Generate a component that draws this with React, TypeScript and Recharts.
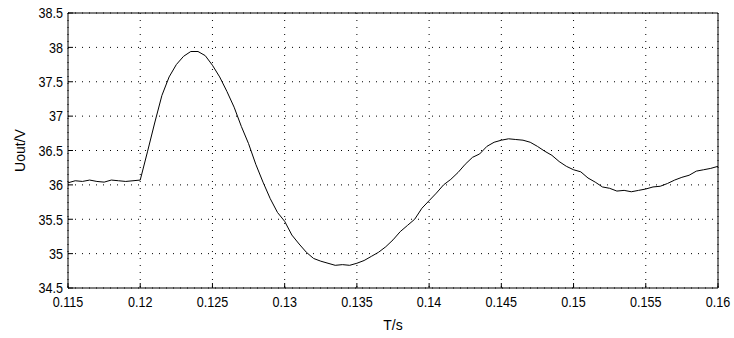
import { CartesianGrid, Line, LineChart, XAxis, YAxis } from "recharts";

const timeS = [
  0.115, 0.1155, 0.116, 0.1165, 0.117, 0.1175, 0.118, 0.1185, 0.119, 0.1195,
  0.12, 0.1205, 0.121, 0.1215, 0.122, 0.1225, 0.123, 0.1235, 0.124, 0.1245,
  0.125, 0.1255, 0.126, 0.1265, 0.127, 0.1275, 0.128, 0.1285, 0.129, 0.1295,
  0.13, 0.1305, 0.131, 0.1315, 0.132, 0.1325, 0.133, 0.1335, 0.134, 0.1345,
  0.135, 0.1355, 0.136, 0.1365, 0.137, 0.1375, 0.138, 0.1385, 0.139, 0.1395,
  0.14, 0.1405, 0.141, 0.1415, 0.142, 0.1425, 0.143, 0.1435, 0.144, 0.1445,
  0.145, 0.1455, 0.146, 0.1465, 0.147, 0.1475, 0.148, 0.1485, 0.149, 0.1495,
  0.15, 0.1505, 0.151, 0.1515, 0.152, 0.1525, 0.153, 0.1535, 0.154, 0.1545,
  0.155, 0.1555, 0.156, 0.1565, 0.157, 0.1575, 0.158, 0.1585, 0.159, 0.1595,
  0.16,
];

const uoutV = [
  36.03, 36.06, 36.05, 36.07, 36.05, 36.04, 36.07, 36.06, 36.05, 36.06,
  36.07, 36.48, 36.9, 37.3, 37.57, 37.75, 37.87, 37.94, 37.94, 37.88,
  37.74, 37.57, 37.36, 37.13, 36.85, 36.6, 36.3, 36.04, 35.8, 35.6,
  35.47, 35.27, 35.14, 35.02, 34.93, 34.89, 34.86, 34.83, 34.84, 34.83,
  34.86, 34.9, 34.96, 35.02, 35.1, 35.2, 35.32, 35.41, 35.5, 35.66,
  35.77, 35.88, 36.0, 36.08, 36.18, 36.3, 36.4, 36.45, 36.56, 36.62,
  36.65, 36.67, 36.66, 36.65, 36.62, 36.56, 36.49, 36.43, 36.34, 36.27,
  36.22, 36.19, 36.1, 36.04, 35.97, 35.95, 35.91, 35.92, 35.9, 35.92,
  35.94, 35.97, 35.98, 36.02, 36.07, 36.11, 36.14, 36.2, 36.22, 36.24,
  36.27,
];

const xTicks = [0.115, 0.12, 0.125, 0.13, 0.135, 0.14, 0.145, 0.15, 0.155, 0.16];
const yTicks = [34.5, 35, 35.5, 36, 36.5, 37, 37.5, 38, 38.5];

const data = timeS.map((t, i) => ({ t, u: uoutV[i] }));

const font = "'Liberation Sans', Arial, sans-serif";

// MATLAB-style condensed tick text (no narrow font installed, so squeeze it)
function NarrowTick(props: any) {
  const { x, y, payload, textAnchor, orientation } = props;
  const dy = orientation === "bottom" ? "0.71em" : "0.355em";
  return (
    <text
      transform={`translate(${x},${y}) scale(0.84,1)`}
      textAnchor={textAnchor}
      dy={dy}
      fill="#000"
      fontSize={15}
      fontFamily={font}
    >
      {String(payload.value)}
    </text>
  );
}

export default function App() {
  return (
    <div style={{ position: "absolute", left: 0, top: 0, background: "#fff" }}>
      <LineChart
        width={734}
        height={338}
        data={data}
        margin={{ top: 0, right: 0, bottom: 0, left: 0 }}
      >
        <CartesianGrid
          xAxisId="bottom"
          yAxisId="left"
          stroke="#000"
          strokeDasharray="1 6"
        />
        <XAxis
          xAxisId="bottom"
          dataKey="t"
          type="number"
          domain={[0.115, 0.16]}
          ticks={xTicks}
          height={50}
          tickSize={-5}
          tickMargin={13}
          tick={<NarrowTick orientation="bottom" />}
          axisLine={{ stroke: "#000" }}
          tickLine={{ stroke: "#000" }}
          label={{
            value: "T/s",
            position: "insideBottom",
            offset: 8,
            style: { fill: "#000", fontSize: 14, fontFamily: font },
          }}
        />
        <XAxis
          xAxisId="top"
          orientation="top"
          dataKey="t"
          type="number"
          domain={[0.115, 0.16]}
          ticks={xTicks}
          height={13}
          tickSize={-5}
          tick={false}
          axisLine={{ stroke: "#000" }}
          tickLine={{ stroke: "#000" }}
        />
        <YAxis
          yAxisId="left"
          type="number"
          domain={[34.5, 38.5]}
          ticks={yTicks}
          width={68}
          tickSize={-5}
          tickMargin={10}
          tick={<NarrowTick orientation="left" />}
          axisLine={{ stroke: "#000" }}
          tickLine={{ stroke: "#000" }}
          label={{
            value: "Uout/V",
            angle: -90,
            position: "insideLeft",
            offset: 20,
            style: { fill: "#000", fontSize: 14, fontFamily: font, textAnchor: "middle" },
          }}
        />
        <YAxis
          yAxisId="right"
          orientation="right"
          type="number"
          domain={[34.5, 38.5]}
          ticks={yTicks}
          width={16}
          tickSize={-5}
          tick={false}
          axisLine={{ stroke: "#000" }}
          tickLine={{ stroke: "#000" }}
        />
        <Line
          xAxisId="bottom"
          yAxisId="left"
          dataKey="u"
          type="linear"
          stroke="#000"
          strokeWidth={1}
          dot={false}
          isAnimationActive={false}
        />
      </LineChart>
    </div>
  );
}
